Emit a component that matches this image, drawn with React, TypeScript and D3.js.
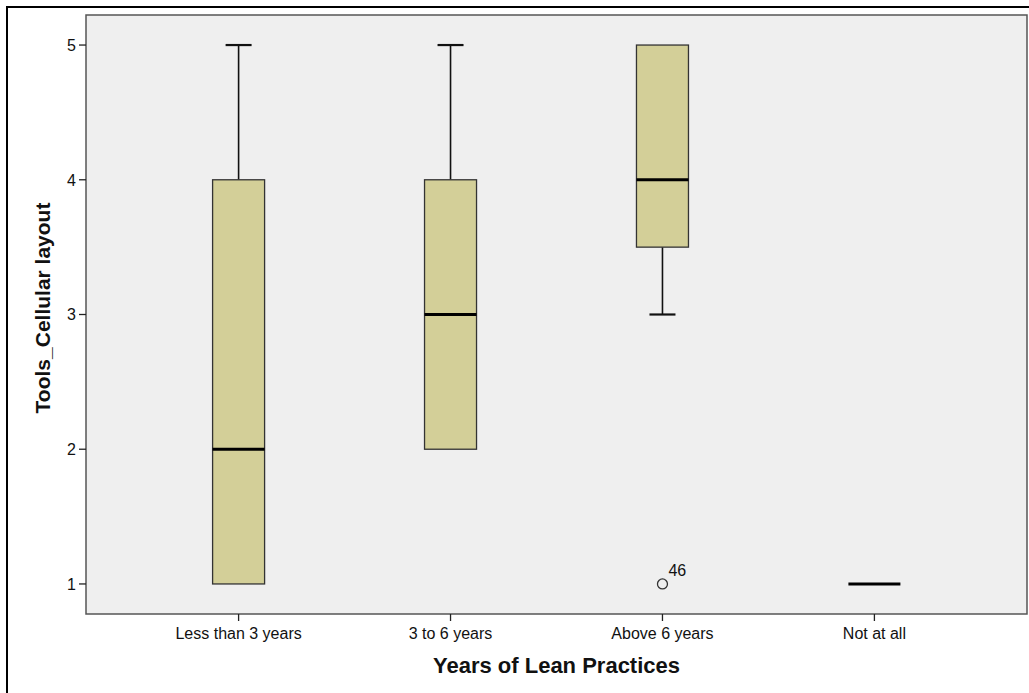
import React from "react";
import * as d3 from "d3";

const categories = ["Less than 3 years", "3 to 6 years", "Above 6 years", "Not at all"];
const whiskerLow = [1, 2, 3, 1];
const q1 = [1, 2, 3.5, 1];
const median = [2, 3, 4, 1];
const q3 = [4, 4, 5, 1];
const whiskerHigh = [5, 5, 5, 1];
const outliers = [{ cat: "Above 6 years", value: 1, label: "46" }];
const yTicks = [1, 2, 3, 4, 5];

const W = 1029, H = 693;
const plot = { left: 86, right: 1027, top: 15, bottom: 614 };

export default function App() {
  const y = d3.scaleLinear().domain([0.777, 5.223]).range([plot.bottom, plot.top]);
  const x = d3.scalePoint<string>().domain(categories).range([plot.left, plot.right]).padding(0.72);
  const boxW = 52;
  const capW = 26;
  const font = "'Liberation Sans', Arial, sans-serif";
  return (
    <svg width={W} height={H} style={{ position: "absolute", left: 0, top: 0 }}>
      <rect x={0} y={0} width={W} height={H} fill="#fff" />
      <rect x={7} y={7} width={W + 10} height={H + 10} fill="none" stroke="#000" strokeWidth={2} />
      <rect x={plot.left} y={plot.top} width={plot.right - plot.left} height={plot.bottom - plot.top}
        fill="#efefef" stroke="#555" strokeWidth={1.5} />
      {yTicks.map((t) => (
        <g key={t}>
          <line x1={plot.left - 7} x2={plot.left} y1={y(t)} y2={y(t)} stroke="#222" strokeWidth={1.3} />
          <text x={plot.left - 10} y={y(t)} dy="0.36em" textAnchor="end" fontFamily={font} fontSize={16} fill="#111">{t}</text>
        </g>
      ))}
      {categories.map((c) => (
        <g key={c}>
          <line x1={x(c)!} x2={x(c)!} y1={plot.bottom} y2={plot.bottom + 7} stroke="#222" strokeWidth={1.3} />
          <text x={x(c)!} y={639} textAnchor="middle" fontFamily={font} fontSize={16} fill="#111">{c}</text>
        </g>
      ))}
      {categories.map((c, i) => {
        const cx = x(c)!;
        const degenerate = q1[i] === q3[i];
        return (
          <g key={"b" + c}>
            {!degenerate && (
              <>
                <line x1={cx} x2={cx} y1={y(q3[i])} y2={y(whiskerHigh[i])} stroke="#111" strokeWidth={1.6} />
                <line x1={cx} x2={cx} y1={y(q1[i])} y2={y(whiskerLow[i])} stroke="#111" strokeWidth={1.6} />
                {whiskerHigh[i] > q3[i] && (
                  <line x1={cx - capW / 2} x2={cx + capW / 2} y1={y(whiskerHigh[i])} y2={y(whiskerHigh[i])} stroke="#111" strokeWidth={2.2} />
                )}
                {whiskerLow[i] < q1[i] && (
                  <line x1={cx - capW / 2} x2={cx + capW / 2} y1={y(whiskerLow[i])} y2={y(whiskerLow[i])} stroke="#111" strokeWidth={2.2} />
                )}
                <rect x={cx - boxW / 2} y={y(q3[i])} width={boxW} height={y(q1[i]) - y(q3[i])}
                  fill="#d3cf98" stroke="#333" strokeWidth={1.3} />
              </>
            )}
            <line x1={cx - boxW / 2} x2={cx + boxW / 2} y1={y(median[i])} y2={y(median[i])} stroke="#000" strokeWidth={3} />
          </g>
        );
      })}
      {outliers.map((o) => (
        <g key={o.label}>
          <circle cx={x(o.cat)!} cy={y(o.value)} r={5} fill="none" stroke="#333" strokeWidth={1.3} />
          <text x={x(o.cat)! + 6} y={y(o.value) - 8} fontFamily={font} fontSize={16} fill="#111">{o.label}</text>
        </g>
      ))}
      <text x={0} y={0} transform={`translate(50, 308) rotate(-90)`} textAnchor="middle"
        fontFamily={font} fontSize={21} fontWeight="bold" fill="#111">Tools_Cellular layout</text>
      <text x={(plot.left + plot.right) / 2} y={673} textAnchor="middle" fontFamily={font} fontSize={22}
        fontWeight="bold" fill="#111">Years of Lean Practices</text>
    </svg>
  );
}
